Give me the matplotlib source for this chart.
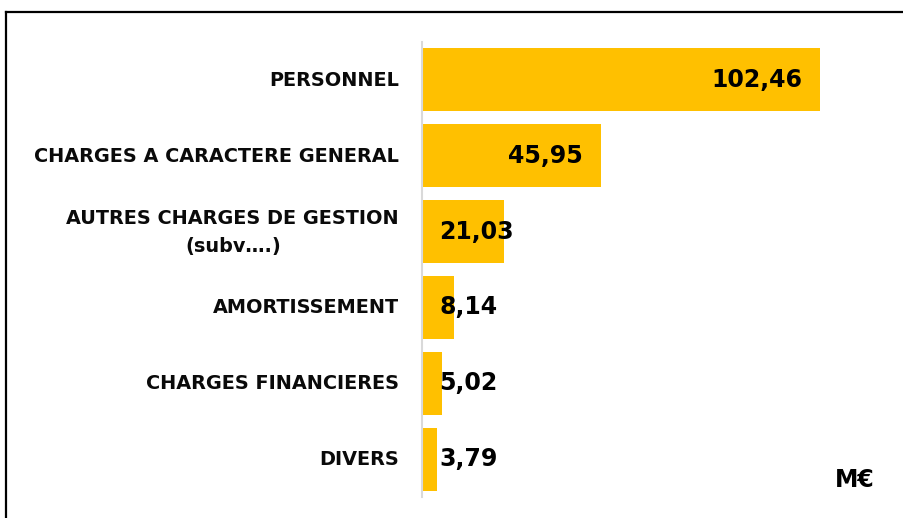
import matplotlib.pyplot as plt
from matplotlib.lines import Line2D

plt.rcParams["font.family"] = ["DejaVu Sans"]

categories = [
    "PERSONNEL",
    "CHARGES A CARACTERE GENERAL",
    "AUTRES CHARGES DE GESTION\n(subv….)",
    "AMORTISSEMENT",
    "CHARGES FINANCIERES",
    "DIVERS",
]
values = [102.46, 45.95, 21.03, 8.14, 5.02, 3.79]
value_labels = ["102,46", "45,95", "21,03", "8,14", "5,02", "3,79"]
unit_label = "M€"

W, H = 904, 518
fig = plt.figure(figsize=(W / 100, H / 100), dpi=100)
ax = fig.add_axes([422 / W, (H - 497) / H, (849.5 - 422) / W, 455 / H])

pos = list(range(len(categories)))
ax.barh(pos, values, height=0.83, color="#FFC000", zorder=2)
ax.set_xlim(0, 110)
ax.set_ylim(len(categories) - 0.5, -0.5)
ax.set_yticks([])
ax.set_xticks([])

for s in ["top", "right", "bottom"]:
    ax.spines[s].set_visible(False)
ax.spines["left"].set_color("#d9d9d9")
ax.spines["left"].set_linewidth(1.5)

# libellés des catégories à gauche de l'axe
for p, cat in zip(pos, categories):
    ax.annotate(cat, (0, p), xycoords=ax.get_yaxis_transform(),
                xytext=(-16.5, -0.3), textcoords="offset points",
                ha="right", va="center", multialignment="center", linespacing=1.6,
                fontsize=13.9, fontweight="bold", color="#0a0a0a")

# étiquettes de valeurs : fin intérieure, ou à la base si la barre est trop courte
for p, v, lab in zip(pos, values, value_labels):
    if v > 30:
        ax.annotate(lab, (v, p), xytext=(-13, 0), textcoords="offset points",
                    ha="right", va="center", fontsize=17, fontweight="bold", color="black")
    else:
        ax.annotate(lab, (0, p), xytext=(12.5, 0), textcoords="offset points",
                    ha="left", va="center", fontsize=17, fontweight="bold", color="black")

fig.text(855 / W, 1 - 480 / H, unit_label, ha="center", va="center",
         fontsize=17, fontweight="bold", color="black")

# cadre (bords gauche et haut visibles)
fig.add_artist(Line2D([6 / W, 6 / W], [0, 1 - 12 / H], transform=fig.transFigure,
                      color="black", linewidth=1.6))
fig.add_artist(Line2D([6 / W, 1], [1 - 12 / H, 1 - 12 / H], transform=fig.transFigure,
                      color="black", linewidth=1.6))

fig.savefig("out.png", dpi=100)
